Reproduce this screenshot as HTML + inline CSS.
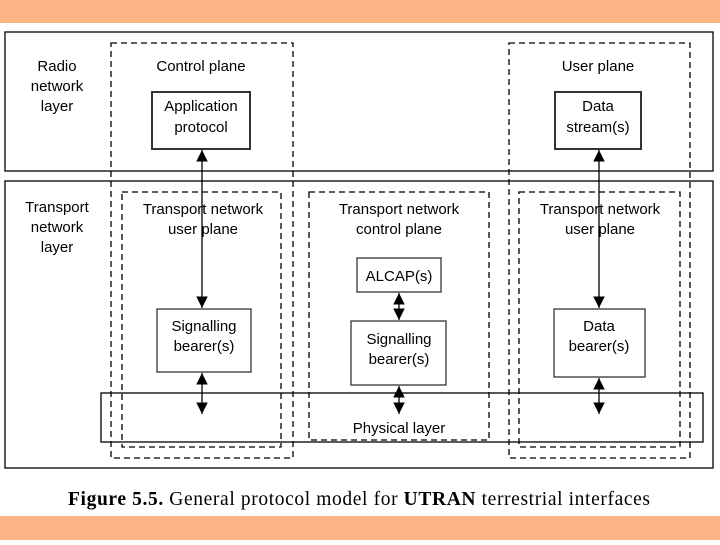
<!DOCTYPE html>
<html><head><style>
body{margin:0;width:720px;height:540px;background:#fff;overflow:hidden}
</style></head><body>
<svg width="720" height="540" xmlns="http://www.w3.org/2000/svg" font-family="Liberation Sans, sans-serif" font-size="15" text-anchor="middle">
<defs>
<marker id="a" viewBox="0 0 12 14" refX="14" refY="7" markerWidth="10" markerHeight="12" markerUnits="userSpaceOnUse" orient="auto-start-reverse"><path d="M0,0L14,7L0,14z" fill="#000"/></marker>
</defs>
<rect x="0" y="0" width="720" height="23" fill="#fdb585"/>
<rect x="0" y="516" width="720" height="24" fill="#fdb585"/>
<g fill="none" stroke="#000" stroke-width="1.3">
<rect x="5" y="32" width="708" height="139"/>
<rect x="5" y="181" width="708" height="287"/>
<rect x="101" y="393" width="602" height="49"/>
</g>
<g fill="none" stroke="#000" stroke-width="1.3" stroke-dasharray="6,4">
<rect x="111" y="43" width="182" height="415"/>
<rect x="122" y="192" width="159" height="255"/>
<rect x="309" y="192" width="180" height="248"/>
<rect x="509" y="43" width="181" height="415"/>
<rect x="519" y="192" width="161" height="255"/>
</g>
<g fill="#fff" stroke="#333" stroke-width="1.3">
<rect x="152" y="92" width="98" height="57" stroke-width="2"/>
<rect x="555" y="92" width="86" height="57" stroke-width="2"/>
<rect x="357" y="258" width="84" height="34"/>
<rect x="351" y="321" width="95" height="64"/>
<rect x="157" y="309" width="94" height="63"/>
<rect x="554" y="309" width="91" height="68"/>
</g>
<g stroke="#000" stroke-width="1.3" marker-start="url(#a)" marker-end="url(#a)">
<line x1="202" y1="150" x2="202" y2="308"/>
<line x1="202" y1="373" x2="202" y2="414"/>
<line x1="399" y1="293" x2="399" y2="320"/>
<line x1="399" y1="386" x2="399" y2="414"/>
<line x1="599" y1="150" x2="599" y2="308"/>
<line x1="599" y1="378" x2="599" y2="414"/>
</g>
<g fill="#000">
<text x="57" y="71">Radio</text><text x="57" y="91">network</text><text x="57" y="111">layer</text>
<text x="57" y="212">Transport</text><text x="57" y="232">network</text><text x="57" y="252">layer</text>
<text x="201" y="71">Control plane</text>
<text x="598" y="71">User plane</text>
<text x="201" y="111">Application</text><text x="201" y="132">protocol</text>
<text x="598" y="111">Data</text><text x="598" y="132">stream(s)</text>
<text x="203" y="214">Transport network</text><text x="203" y="234">user plane</text>
<text x="399" y="214">Transport network</text><text x="399" y="234">control plane</text>
<text x="600" y="214">Transport network</text><text x="600" y="234">user plane</text>
<text x="399" y="281">ALCAP(s)</text>
<text x="399" y="344">Signalling</text><text x="399" y="364">bearer(s)</text>
<text x="204" y="331">Signalling</text><text x="204" y="351">bearer(s)</text>
<text x="599" y="331">Data</text><text x="599" y="351">bearer(s)</text>
<text x="399" y="433">Physical layer</text>
<text x="359" y="505" font-family="Liberation Serif, serif" font-size="19.5" textLength="582" lengthAdjust="spacing"><tspan font-weight="bold">Figure 5.5.</tspan> General protocol model for <tspan font-weight="bold">UTRAN</tspan> terrestrial interfaces</text>
</g>
</svg>
</body></html>
